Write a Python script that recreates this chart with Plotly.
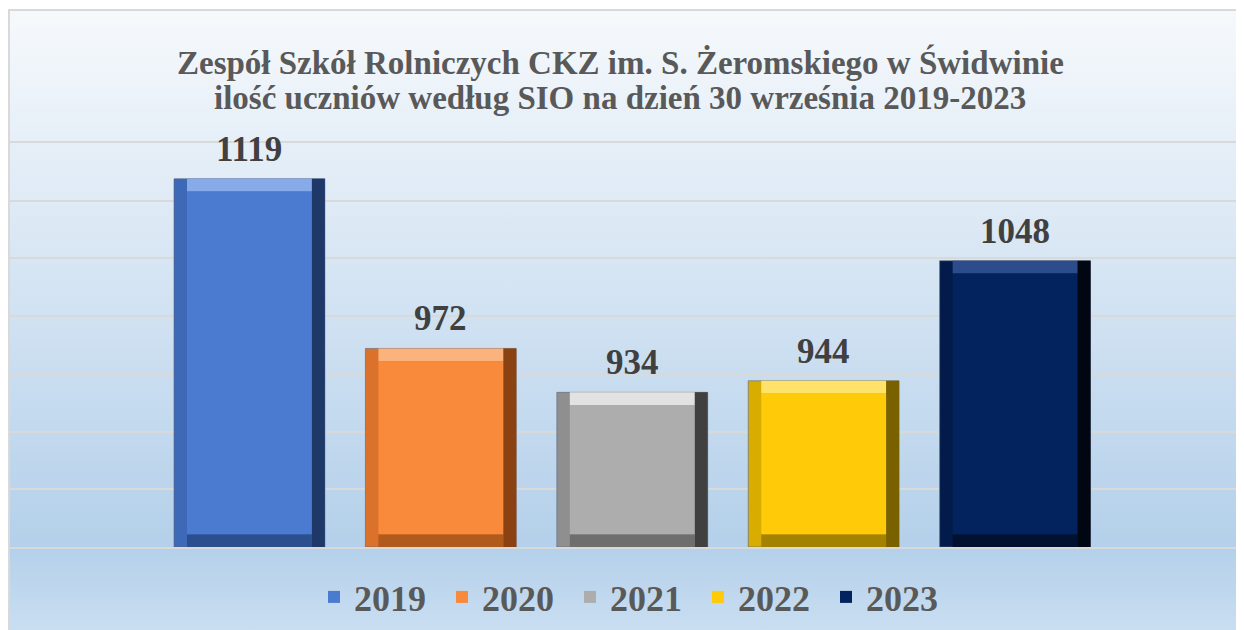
import base64
import plotly.graph_objects as go

years = ["2019", "2020", "2021", "2022", "2023"]
values = [1119, 972, 934, 944, 1048]
main_colors = ["#4A7BD0", "#F98A3C", "#ADADAD", "#FFCA08", "#03235F"]
top_colors = ["#86ABE8", "#FCB27C", "#E2E2E2", "#FFE26A", "#2D4C8C"]
left_colors = ["#3E69B6", "#DB722B", "#8F8F8F", "#D9AC00", "#021B4A"]
right_colors = ["#1E3868", "#8A4212", "#404040", "#7A6100", "#000612"]
bottom_colors = ["#2B4E8E", "#B05A1C", "#6E6E6E", "#A38200", "#01112F"]

title_line1 = "Zespół Szkół Rolniczych CKZ im. S. Żeromskiego w Świdwinie"
title_line2 = "ilość uczniów według SIO na dzień 30 września 2019-2023"

Y0, Y1 = 800, 1150
BW = 0.788          # bar width (category units)
BEV_X = 0.068       # bevel width (category units)
BEV_Y = 11          # bevel height (value units)

fig = go.Figure()
for i, (yr, v) in enumerate(zip(years, values)):
    h = v - Y0
    common = dict(x=[yr], hoverinfo="skip", legendgroup=yr, showlegend=False)
    fig.add_trace(go.Bar(y=[h], base=[Y0], width=[BW],
                         marker=dict(color=left_colors[i], line=dict(width=1, color="rgba(90,100,120,0.6)")), **common))
    fig.add_trace(go.Bar(y=[h], base=[Y0], width=[BEV_X], offset=[BW / 2 - BEV_X],
                         marker=dict(color=right_colors[i], line=dict(width=0)), **common))
    fig.add_trace(go.Bar(y=[BEV_Y], base=[Y0], width=[BW - 2 * BEV_X],
                         marker=dict(color=bottom_colors[i], line=dict(width=0)), **common))
    fig.add_trace(go.Bar(y=[BEV_Y], base=[v - BEV_Y], width=[BW - 2 * BEV_X],
                         marker=dict(color=top_colors[i], line=dict(width=0)), **common))
    fig.add_trace(go.Bar(x=[yr], y=[h - 2 * BEV_Y], base=[Y0 + BEV_Y], width=[BW - 2 * BEV_X],
                         marker=dict(color=main_colors[i], line=dict(width=0)),
                         name=f"<b>{yr}</b>", legendgroup=yr, showlegend=True, hoverinfo="skip"))

for i, v in enumerate(values):
    fig.add_annotation(x=i, y=v, text=f"<b>{v}</b>", showarrow=False, yanchor="middle", yshift=29.5,
                       font=dict(family="Liberation Serif", size=35, color="#404040"))

# figure geometry (page has an 8px body margin)
W, H = 1236, 622
L, R, T, B = 1, 0, 135, 83
ph = H - T - B
def py(px):
    return (H - B - px) / ph

top_p = py(2)
bot_p = py(H)

svg = ('<svg xmlns="http://www.w3.org/2000/svg" width="100" height="100" preserveAspectRatio="none">'
       '<defs><linearGradient id="g" x1="0" y1="0" x2="0" y2="1">'
       '<stop offset="0" stop-color="#F6F9FC"/><stop offset="0.866" stop-color="#B4D0EA"/>'
       '<stop offset="1" stop-color="#C9DEF1"/></linearGradient></defs>'
       '<rect width="100" height="100" fill="url(#g)"/></svg>')
src = "data:image/svg+xml;base64," + base64.b64encode(svg.encode()).decode()

fig.add_layout_image(dict(source=src, xref="paper", yref="paper", x=0, y=top_p, sizex=1.0, sizey=top_p - bot_p,
                          xanchor="left", yanchor="top", sizing="stretch", layer="below"))
fig.add_shape(type="rect", xref="paper", yref="paper", x0=0, x1=1.05, y0=bot_p - 0.05, y1=top_p,
              line=dict(color="#D9D9D9", width=2), fillcolor="rgba(0,0,0,0)", layer="above")

title_font = dict(family="Liberation Serif", size=33, color="#595959")
fig.add_annotation(xref="paper", yref="paper", x=(612 - L) / (W - L - R), y=py(54.3), text=f"<b>{title_line1}</b>",
                   showarrow=False, xanchor="center", yanchor="middle", font=title_font)
fig.add_annotation(xref="paper", yref="paper", x=(612 - L) / (W - L - R), y=py(90.3), text=f"<b>{title_line2}</b>",
                   showarrow=False, xanchor="center", yanchor="middle", font=title_font)

fig.update_layout(
    width=W, height=H,
    margin=dict(l=L, r=R, t=T, b=B),
    paper_bgcolor="#FFFFFF", plot_bgcolor="rgba(0,0,0,0)",
    barmode="overlay",
    xaxis=dict(type="category", categoryorder="array", categoryarray=years, range=[-1.256, 5.196],
               showticklabels=False, showgrid=False, zeroline=False,
               showline=True, linecolor="#D9D9D9", linewidth=2, mirror=True, fixedrange=True),
    yaxis=dict(range=[Y0, Y1], dtick=50, tick0=0, showticklabels=False, showgrid=True, gridcolor="#D9D9D9",
               gridwidth=2, zeroline=False, showline=False),
    legend=dict(orientation="h", x=(626 - L) / (W - L - R), xanchor="center", y=py(589), yanchor="middle",
                font=dict(family="Liberation Serif", size=36, color="#595959"), bgcolor="rgba(0,0,0,0)",
                traceorder="normal", itemclick=False, entrywidth=83, entrywidthmode="pixels"),
    showlegend=True,
)

fig.write_html("out.html")
